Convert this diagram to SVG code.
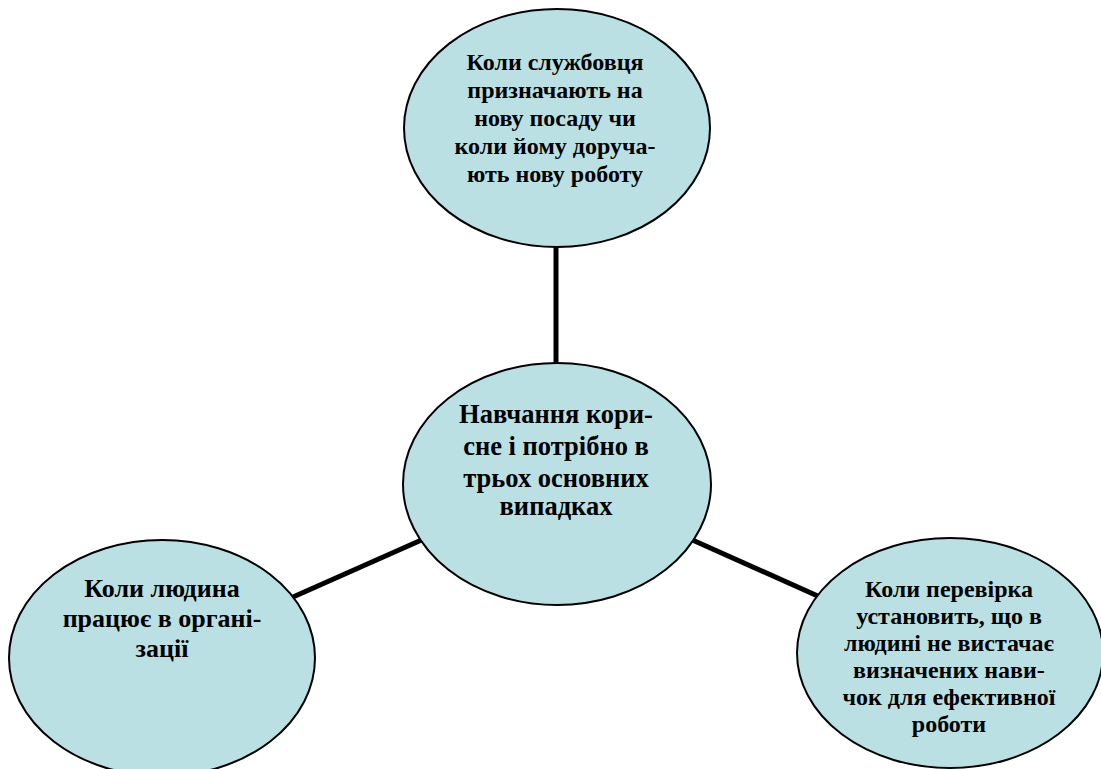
<svg xmlns="http://www.w3.org/2000/svg" width="1101" height="769" viewBox="0 0 1101 769">
<style>
.node{fill:#bae0e3;stroke:#000;stroke-width:2}
.t{font-family:"Liberation Serif","Times New Roman",serif;font-weight:bold;font-size:24px;fill:#000;text-anchor:middle}
.tc{font-size:26.5px}
.tl{font-size:26px}
.edge{stroke:#000;stroke-width:5;fill:none}
</style>
<rect width="1101" height="769" fill="#fff"/>
<g id="connectors">
<line class="edge" x1="556" y1="246" x2="556" y2="364"/>
<line class="edge" x1="293" y1="597" x2="426" y2="538"/>
<line class="edge" x1="688" y1="538" x2="820" y2="597"/>
</g>
<g id="node-top">
<ellipse class="node" cx="557" cy="128" rx="153" ry="119"/>
<text class="t" x="555"><tspan x="555" y="70">Коли службовця</tspan><tspan x="555" y="98">призначають на</tspan><tspan x="555" y="126">нову посаду чи</tspan><tspan x="555" y="154">коли йому доруча-</tspan><tspan x="555" y="182">ють нову роботу</tspan></text>
</g>
<g id="node-center">
<ellipse class="node" cx="557" cy="484" rx="154" ry="121"/>
<text class="t tc" x="556"><tspan x="556" y="423">Навчання кори-</tspan><tspan x="556" y="455">сне і потрібно в</tspan><tspan x="556" y="487">трьох основних</tspan><tspan x="556" y="515">випадках</tspan></text>
</g>
<g id="node-left">
<ellipse class="node" cx="162" cy="658" rx="153" ry="118"/>
<text class="t tl" x="162"><tspan x="162" y="597">Коли людина</tspan><tspan x="162" y="627">працює в органі-</tspan><tspan x="162" y="657">зації</tspan></text>
</g>
<g id="node-right">
<ellipse class="node" cx="950" cy="653" rx="153" ry="115"/>
<text class="t" x="949"><tspan x="949" y="597">Коли перевірка</tspan><tspan x="949" y="624">установить, що в</tspan><tspan x="949" y="651">людині не вистачає</tspan><tspan x="949" y="678">визначених нави-</tspan><tspan x="949" y="705">чок для ефективної</tspan><tspan x="949" y="732">роботи</tspan></text>
</g>
</svg>
